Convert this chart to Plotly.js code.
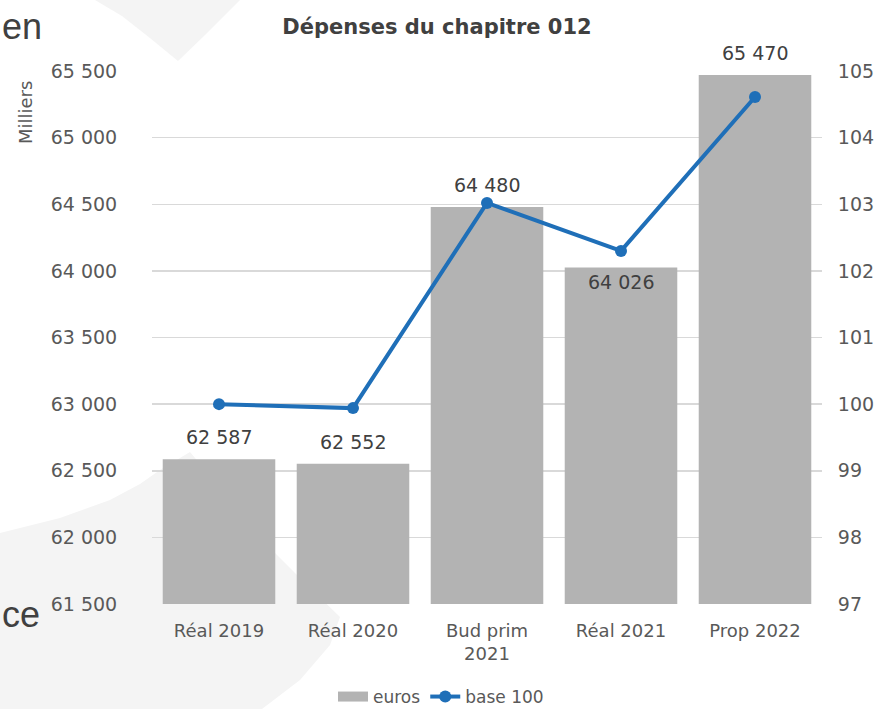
<!DOCTYPE html>
<html>
<head>
<meta charset="utf-8">
<script src="https://cdn.plot.ly/plotly-3.0.1.min.js"></script>
<style>
  html, body { margin: 0; padding: 0; background: #ffffff; }
  #chart { width: 879px; height: 709px; }
</style>
</head>
<body>
<div id="chart"></div>
<script>
// ---- data ----
const categories = ["Réal 2019", "Réal 2020", "Bud prim<br>2021", "Réal 2021", "Prop 2022"];
const euros = [62587, 62552, 64480, 64026, 65470];          // milliers d'euros
const base100 = [100.00, 99.94, 103.02, 102.30, 104.61];    // indice base 100
const leftTicks = [61500, 62000, 62500, 63000, 63500, 64000, 64500, 65000, 65500];
const rightTicks = [97, 98, 99, 100, 101, 102, 103, 104, 105];

// label placement (style, not data): pixels above (+) / below (-) the bar top
const labelShift = [22, 22, 22, -15, 22];

const FONT = "DejaVu Sans, Verdana, sans-serif";
const TXT = "#595959";
const fmt = v => String(v).replace(/\B(?=(\d{3})+(?!\d))/g, " ");

const traces = [
  {
    type: "bar",
    name: "euros",
    x: categories,
    y: euros,
    marker: { color: "#b3b3b3" },
    showlegend: false,
    hoverinfo: "skip"
  },
  {
    // legend swatch for the bars (wide grey band, as in the reference)
    type: "scatter",
    mode: "lines",
    name: "euros",
    x: [null],
    y: [null],
    line: { color: "#b3b3b3", width: 11 },
    showlegend: true,
    hoverinfo: "skip"
  },
  {
    type: "scatter",
    mode: "lines+markers",
    name: "base 100",
    x: categories,
    y: base100,
    yaxis: "y2",
    line: { color: "#1f6fb8", width: 4 },
    marker: { color: "#1f6fb8", size: 12 },
    hoverinfo: "skip"
  }
];

// pixel -> paper helpers for decorative background
const L = 152, R = 822, T = 71, B = 604;
const px = v => (v - L) / (R - L);
const py = v => (B - v) / (B - T);
function pathFrom(points) {
  return points.map((p, i) => (i ? "L" : "M") + px(p[0]).toFixed(4) + "," + py(p[1]).toFixed(4)).join(" ") + " Z";
}

const barLabels = categories.map((c, i) => ({
  x: c, y: euros[i], xref: "x", yref: "y",
  text: fmt(euros[i]), showarrow: false,
  xanchor: "center", yanchor: "middle", yshift: labelShift[i],
  font: { family: FONT, size: 19, color: "#404040" }
}));

const layout = {
  width: 879,
  height: 709,
  margin: { l: L, r: 879 - R, t: T, b: 709 - B, pad: 0, autoexpand: false },
  paper_bgcolor: "#ffffff",
  plot_bgcolor: "rgba(0,0,0,0)",
  separators: ", ",
  bargap: 0.16,
  font: { family: FONT, color: TXT, size: 19 },
  title: {
    text: "Dépenses du chapitre 012",
    x: 437 / 879, xanchor: "center",
    y: 1 - 27 / 709, yanchor: "middle",
    font: { family: FONT, size: 21, color: "#404040", weight: "bold" }
  },
  xaxis: {
    type: "category",
    showgrid: false,
    showline: false,
    zeroline: false,
    ticks: "outside",
    ticklen: 10,
    tickcolor: "rgba(0,0,0,0)",
    tickfont: { family: FONT, size: 18, color: TXT }
  },
  yaxis: {
    range: [61500, 65500],
    tickmode: "array",
    tickvals: leftTicks,
    ticktext: leftTicks.map(fmt),
    showgrid: true,
    gridcolor: "#d9d9d9",
    gridwidth: 1.5,
    zeroline: false,
    showline: false,
    ticks: "outside",
    ticklen: 30,
    tickcolor: "rgba(0,0,0,0)",
    tickfont: { family: FONT, size: 19, color: TXT }
  },
  yaxis2: {
    overlaying: "y",
    side: "right",
    range: [97, 105],
    tickmode: "array",
    tickvals: rightTicks,
    showgrid: false,
    zeroline: false,
    showline: false,
    ticks: "outside",
    ticklen: 11,
    tickcolor: "rgba(0,0,0,0)",
    tickfont: { family: FONT, size: 19, color: TXT }
  },
  showlegend: true,
  legend: {
    orientation: "h",
    xref: "paper",
    x: px(441), xanchor: "center",
    yref: "container",
    y: 1 - 697 / 709, yanchor: "middle",
    font: { family: FONT, size: 17, color: TXT },
    bgcolor: "rgba(0,0,0,0)",
    traceorder: "normal",
    entrywidth: 0
  },
  annotations: barLabels.concat([
    {
      text: "Milliers", xref: "paper", yref: "paper",
      x: px(25), y: py(113), xanchor: "center", yanchor: "middle",
      textangle: -90, showarrow: false,
      font: { family: FONT, size: 18, color: TXT }
    },
    {
      text: "en", xref: "paper", yref: "paper",
      x: px(0), y: py(27), xanchor: "left", yanchor: "middle",
      showarrow: false,
      font: { family: "Liberation Sans, Arial, sans-serif", size: 36, color: "#404040" }
    },
    {
      text: "ce", xref: "paper", yref: "paper",
      x: px(0), y: py(614), xanchor: "left", yanchor: "middle",
      showarrow: false,
      font: { family: "Liberation Sans, Arial, sans-serif", size: 36, color: "#404040" }
    }
  ]),
  shapes: [
    {
      type: "path", xref: "paper", yref: "paper", layer: "below",
      path: pathFrom([[95, 0], [240, 0], [205, 35], [178, 61], [150, 38], [122, 16]]),
      fillcolor: "#f4f4f4", line: { width: 0 }
    },
    {
      type: "path", xref: "paper", yref: "paper", layer: "below",
      path: pathFrom([[0, 533], [60, 518], [110, 500], [140, 484], [160, 470], [190, 452],
                      [275, 553], [300, 578], [340, 617], [330, 645], [300, 680], [262, 709], [0, 709]]),
      fillcolor: "#f4f4f4", line: { width: 0 }
    }
  ]
};

Plotly.newPlot("chart", traces, layout, { displayModeBar: false, staticPlot: true });
</script>
</body>
</html>
